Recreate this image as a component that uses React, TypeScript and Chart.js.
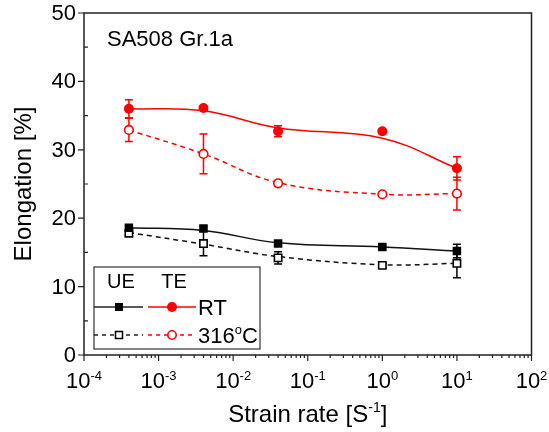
import React, { useEffect, useRef } from "react";
import { Chart, registerables } from "chart.js";
Chart.register(...registerables);

// ---- data ----
const strainRates = [4e-4, 4e-3, 4e-2, 1, 10];
const teRT = [36.0, 36.1, 32.7, 32.7, 27.3];
const teRTErr = [1.3, 0.3, 0.8, 0.3, 1.7];
const te316 = [32.9, 29.4, 25.1, 23.5, 23.6];
const te316Err = [1.7, 2.9, 0.4, 0.3, 2.4];
const ueRT = [18.6, 18.5, 16.3, 15.8, 15.2];
const ueRTErr = [0.3, 0.3, 0.3, 0.3, 1.0];
const ue316 = [17.8, 16.3, 14.2, 13.1, 13.4];
const ue316Err = [0.3, 1.8, 0.9, 0.3, 2.1];
// fitted (smoothed) curves drawn through the data
const teRTFit = [36.0, 35.7, 33.2, 31.7, 27.3];
const te316Fit = [32.9, 29.4, 25.2, 23.5, 23.6];
const ueRTFit = [18.6, 18.2, 16.4, 15.8, 15.2];
const ue316Fit = [17.9, 16.2, 14.4, 13.2, 13.4];

const xExponents = [-4, -3, -2, -1, 0, 1, 2];
const yTickValues = [0, 10, 20, 30, 40, 50];
const yMinorValues = [5, 15, 25, 35, 45];

const FONT = "'Liberation Sans', Arial, sans-serif";
const RED = "#ff0000";
const BLACK = "#000000";

const pts = (ys: number[]) => ys.map((y, i) => ({ x: strainRates[i], y }));

function drawSup(
  ctx: CanvasRenderingContext2D,
  base: string,
  sup: string,
  x: number,
  y: number,
  baseSize: number,
  supSize: number,
  raise: number,
  align: "left" | "center",
  tail = ""
) {
  ctx.font = `${baseSize}px ${FONT}`;
  const wb = ctx.measureText(base).width;
  const wt = tail ? ctx.measureText(tail).width : 0;
  ctx.font = `${supSize}px ${FONT}`;
  const ws = ctx.measureText(sup).width;
  const total = wb + ws + wt;
  const sx = align === "center" ? x - total / 2 : x;
  ctx.textAlign = "left";
  ctx.textBaseline = "alphabetic";
  ctx.font = `${baseSize}px ${FONT}`;
  ctx.fillText(base, sx, y);
  ctx.font = `${supSize}px ${FONT}`;
  ctx.fillText(sup, sx + wb, y - raise);
  if (tail) {
    ctx.font = `${baseSize}px ${FONT}`;
    ctx.fillText(tail, sx + wb + ws, y);
  }
}

const errorBarPlugin = {
  id: "errorBars",
  beforeDatasetsDraw(chart: any) {
    const ctx = chart.ctx as CanvasRenderingContext2D;
    const xs = chart.scales.x;
    const ys = chart.scales.y;
    chart.data.datasets.forEach((ds: any) => {
      if (!ds.errors) return;
      ctx.save();
      ctx.strokeStyle = ds.errColor;
      ctx.lineWidth = 1.5;
      ds.data.forEach((p: any, i: number) => {
        const e = ds.errors[i];
        const px = xs.getPixelForValue(p.x);
        const top = ys.getPixelForValue(p.y + e);
        const bot = ys.getPixelForValue(p.y - e);
        ctx.beginPath();
        ctx.moveTo(px, top);
        ctx.lineTo(px, bot);
        ctx.moveTo(px - 4, top);
        ctx.lineTo(px + 4, top);
        ctx.moveTo(px - 4, bot);
        ctx.lineTo(px + 4, bot);
        ctx.stroke();
      });
      ctx.restore();
    });
  },
};

const decorPlugin = {
  id: "decor",
  afterDraw(chart: any) {
    const ctx = chart.ctx as CanvasRenderingContext2D;
    const { left, right, top, bottom } = chart.chartArea;
    const xs = chart.scales.x;
    const ys = chart.scales.y;
    ctx.save();
    // frame
    ctx.strokeStyle = "#222";
    ctx.lineWidth = 1.5;
    ctx.strokeRect(left, top, right - left, bottom - top);

    // x ticks
    ctx.lineWidth = 1.2;
    ctx.beginPath();
    xExponents.forEach((e, idx) => {
      const px = xs.getPixelForValue(Math.pow(10, e));
      ctx.moveTo(px, bottom);
      ctx.lineTo(px, bottom + 6);
      if (idx < xExponents.length - 1) {
        for (let m = 2; m <= 9; m++) {
          const mx = xs.getPixelForValue(m * Math.pow(10, e));
          ctx.moveTo(mx, bottom);
          ctx.lineTo(mx, bottom + 3);
        }
      }
    });
    // y ticks
    yTickValues.forEach((v) => {
      const py = ys.getPixelForValue(v);
      ctx.moveTo(left - 6, py);
      ctx.lineTo(left, py);
    });
    yMinorValues.forEach((v) => {
      const py = ys.getPixelForValue(v);
      ctx.moveTo(left, py);
      ctx.lineTo(left + 4, py);
    });
    ctx.stroke();

    ctx.fillStyle = "#000";
    // y tick labels
    ctx.font = `22px ${FONT}`;
    ctx.textAlign = "right";
    ctx.textBaseline = "middle";
    yTickValues.forEach((v) => {
      ctx.fillText(String(v), left - 8, ys.getPixelForValue(v) + 1);
    });
    // x tick labels
    xExponents.forEach((e) => {
      const px = xs.getPixelForValue(Math.pow(10, e));
      drawSup(ctx, "10", String(e), px, bottom + 33, 22, 13, 8, "center");
    });

    // axis titles
    drawSup(ctx, "Strain rate [S", "-1", (left + right) / 2, bottom + 67, 24, 14, 10, "center", "]");
    ctx.save();
    ctx.translate(24, (top + bottom) / 2);
    ctx.rotate(-Math.PI / 2);
    ctx.font = `24px ${FONT}`;
    ctx.textAlign = "center";
    ctx.textBaseline = "middle";
    ctx.fillText("Elongation [%]", 0, 0);
    ctx.restore();

    // annotation
    ctx.font = `22px ${FONT}`;
    ctx.textAlign = "left";
    ctx.textBaseline = "alphabetic";
    ctx.fillText("SA508 Gr.1a", left + 23, top + 33);

    // legend box
    const lx = left + 10;
    const ly = 267;
    ctx.strokeStyle = "#333";
    ctx.lineWidth = 1.2;
    ctx.strokeRect(lx, ly, 166, 82);
    ctx.font = `20px ${FONT}`;
    ctx.textAlign = "center";
    ctx.fillText("UE", lx + 27, ly + 21);
    ctx.fillText("TE", lx + 80, ly + 21);

    const rows = [
      { y: ly + 40, dash: [] as number[], filled: true, label: "RT" },
      { y: ly + 68, dash: [4, 4], filled: false, label: "316" },
    ];
    rows.forEach((r) => {
      ctx.lineWidth = 1.5;
      ctx.setLineDash(r.dash);
      ctx.strokeStyle = "#222";
      ctx.beginPath();
      ctx.moveTo(lx, r.y);
      ctx.lineTo(lx + 49, r.y);
      ctx.stroke();
      ctx.strokeStyle = RED;
      ctx.beginPath();
      ctx.moveTo(lx + 54, r.y);
      ctx.lineTo(lx + 102, r.y);
      ctx.stroke();
      ctx.setLineDash([]);
      // square
      const sx = lx + 25;
      if (r.filled) {
        ctx.fillStyle = BLACK;
        ctx.fillRect(sx - 4, r.y - 4, 8, 8);
      } else {
        ctx.fillStyle = "#fff";
        ctx.fillRect(sx - 3.5, r.y - 3.5, 7, 7);
        ctx.strokeStyle = BLACK;
        ctx.lineWidth = 1.5;
        ctx.strokeRect(sx - 3.5, r.y - 3.5, 7, 7);
      }
      // circle
      const cx = lx + 78;
      ctx.beginPath();
      if (r.filled) {
        ctx.arc(cx, r.y, 5, 0, Math.PI * 2);
        ctx.fillStyle = RED;
        ctx.fill();
      } else {
        ctx.arc(cx, r.y, 4.2, 0, Math.PI * 2);
        ctx.fillStyle = "#fff";
        ctx.fill();
        ctx.strokeStyle = RED;
        ctx.lineWidth = 1.6;
        ctx.stroke();
      }
      ctx.fillStyle = "#000";
      if (r.label === "RT") {
        ctx.font = `22px ${FONT}`;
        ctx.textAlign = "left";
        ctx.textBaseline = "alphabetic";
        ctx.fillText("RT", lx + 104, r.y + 8);
      } else {
        drawSup(ctx, "316", "o", lx + 104, r.y + 8, 22, 13, 9, "left", "C");
      }
    });
    ctx.restore();
  },
};

export default function App() {
  const ref = useRef<HTMLCanvasElement | null>(null);
  useEffect(() => {
    if (!ref.current) return;
    const markerCommon = { showLine: false, borderWidth: 0, pointHoverRadius: 0 };
    const lineCommon = { pointRadius: 0, pointHoverRadius: 0, tension: 0.4, borderWidth: 1.5, fill: false };
    const chart = new Chart(ref.current, {
      type: "line",
      data: {
        datasets: [
          {
            ...markerCommon,
            data: pts(teRT),
            errors: teRTErr,
            errColor: RED,
            pointStyle: "circle",
            pointRadius: 5,
            pointBackgroundColor: RED,
            pointBorderColor: RED,
            pointBorderWidth: 0,
          } as any,
          {
            ...markerCommon,
            data: pts(te316),
            errors: te316Err,
            errColor: RED,
            pointStyle: "circle",
            pointRadius: 4.3,
            pointBackgroundColor: "#fff",
            pointBorderColor: RED,
            pointBorderWidth: 1.6,
          } as any,
          {
            ...markerCommon,
            data: pts(ueRT),
            errors: ueRTErr,
            errColor: BLACK,
            pointStyle: "rect",
            pointRadius: 6,
            pointBackgroundColor: BLACK,
            pointBorderColor: BLACK,
            pointBorderWidth: 0,
          } as any,
          {
            ...markerCommon,
            data: pts(ue316),
            errors: ue316Err,
            errColor: BLACK,
            pointStyle: "rect",
            pointRadius: 5.2,
            pointBackgroundColor: "#fff",
            pointBorderColor: BLACK,
            pointBorderWidth: 1.6,
          } as any,
          { ...lineCommon, data: pts(teRTFit), borderColor: RED } as any,
          { ...lineCommon, data: pts(te316Fit), borderColor: RED, borderDash: [5, 4] } as any,
          { ...lineCommon, data: pts(ueRTFit), borderColor: "#111" } as any,
          { ...lineCommon, data: pts(ue316Fit), borderColor: "#111", borderDash: [5, 4] } as any,
        ],
      },
      options: {
        animation: false,
        responsive: false,
        devicePixelRatio: 1,
        events: [],
        layout: { padding: { left: 0, right: 17.5, top: 13, bottom: 0 } },
        plugins: { legend: { display: false }, tooltip: { enabled: false }, title: { display: false } },
        scales: {
          x: {
            type: "logarithmic",
            min: 1e-4,
            max: 1e2,
            ticks: { display: false },
            grid: { display: false },
            border: { display: false },
            afterFit: (s: any) => {
              s.height = 77;
            },
          },
          y: {
            type: "linear",
            min: 0,
            max: 50,
            ticks: { display: false },
            grid: { display: false },
            border: { display: false },
            afterFit: (s: any) => {
              s.width = 84;
            },
          },
        },
      } as any,
      plugins: [errorBarPlugin, decorPlugin],
    });
    return () => chart.destroy();
  }, []);
  return (
    <div style={{ position: "fixed", left: 0, top: 0, width: 549, height: 432, background: "#fff" }}>
      <canvas ref={ref} width={549} height={432} style={{ display: "block" }} />
    </div>
  );
}
